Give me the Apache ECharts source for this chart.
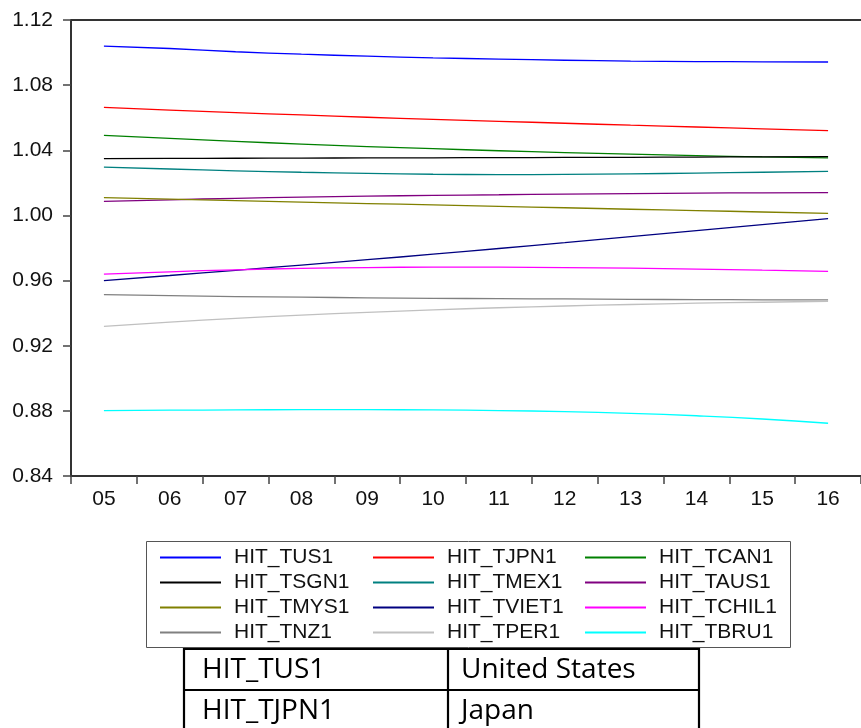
<!DOCTYPE html>
<html>
<head>
<meta charset="utf-8">
<script src="https://cdn.jsdelivr.net/npm/echarts@6/dist/echarts.min.js"></script>
<style>
html,body{margin:0;padding:0;background:#fff;overflow:hidden;}
#chart{width:861px;height:728px;}
</style>
</head>
<body>
<div id="chart"></div>
<script>
var categories = ['05','06','07','08','09','10','11','12','13','14','15','16'];
var yTicks = [0.84, 0.88, 0.92, 0.96, 1.00, 1.04, 1.08, 1.12];

var HIT_TUS1   = [1.1040,1.1025,1.1005,1.0990,1.0978,1.0968,1.0960,1.0953,1.0948,1.0945,1.0943,1.0942];
var HIT_TJPN1  = [1.0663,1.0647,1.0631,1.0617,1.0603,1.0590,1.0578,1.0566,1.0554,1.0543,1.0532,1.0521];
var HIT_TCAN1  = [1.0492,1.0473,1.0455,1.0438,1.0423,1.0410,1.0397,1.0386,1.0376,1.0367,1.0359,1.0353];
var HIT_TSGN1  = [1.0349,1.0350,1.0351,1.0352,1.0353,1.0354,1.0355,1.0356,1.0357,1.0358,1.0360,1.0361];
var HIT_TMEX1  = [1.0297,1.0285,1.0274,1.0265,1.0258,1.0253,1.0251,1.0252,1.0255,1.0260,1.0265,1.0271];
var HIT_TAUS1  = [1.0086,1.0096,1.0105,1.0112,1.0118,1.0123,1.0127,1.0131,1.0134,1.0137,1.0139,1.0140];
var HIT_TMYS1  = [1.0109,1.0100,1.0091,1.0082,1.0073,1.0065,1.0056,1.0047,1.0038,1.0030,1.0021,1.0012];
var HIT_TVIET1 = [0.9600,0.9631,0.9663,0.9695,0.9728,0.9762,0.9797,0.9833,0.9870,0.9907,0.9944,0.9980];
var HIT_TCHIL1 = [0.9639,0.9654,0.9666,0.9675,0.9680,0.9682,0.9682,0.9680,0.9676,0.9670,0.9664,0.9657];
var HIT_TNZ1   = [0.9514,0.9508,0.9502,0.9498,0.9494,0.9491,0.9489,0.9487,0.9485,0.9483,0.9482,0.9481];
var HIT_TPER1  = [0.9319,0.9345,0.9368,0.9388,0.9405,0.9420,0.9433,0.9444,0.9453,0.9461,0.9467,0.9473];
var HIT_TBRU1  = [0.8802,0.8804,0.8806,0.8807,0.8807,0.8806,0.8802,0.8795,0.8785,0.8770,0.8750,0.8724];

var seriesNames = ['HIT_TUS1','HIT_TJPN1','HIT_TCAN1','HIT_TSGN1','HIT_TMEX1','HIT_TAUS1',
                   'HIT_TMYS1','HIT_TVIET1','HIT_TCHIL1','HIT_TNZ1','HIT_TPER1','HIT_TBRU1'];
var seriesValues = [HIT_TUS1,HIT_TJPN1,HIT_TCAN1,HIT_TSGN1,HIT_TMEX1,HIT_TAUS1,
                    HIT_TMYS1,HIT_TVIET1,HIT_TCHIL1,HIT_TNZ1,HIT_TPER1,HIT_TBRU1];
var seriesColors = ['#0000FF','#FF0000','#008000','#000000','#008080','#800080',
                    '#808000','#000080','#FF00FF','#808080','#C0C0C0','#00FFFF'];

var tableCodes = ['HIT_TUS1','HIT_TJPN1'];
var tableNames = ['United States','Japan'];

var chart = echarts.init(document.getElementById('chart'), null, {renderer:'canvas'});

var series = seriesNames.map(function(n,i){
  return {
    name:n, type:'line', data:seriesValues[i], smooth:true,
    symbol:'none', showSymbol:false,
    lineStyle:{color:seriesColors[i], width:1.3},
    itemStyle:{color:seriesColors[i]},
    emphasis:{disabled:true}, animation:false
  };
});

var colLefts = [160, 373, 585];
var legends = [0,1,2].map(function(c){
  var names = [];
  for (var r=0;r<4;r++) names.push(seriesNames[r*3+c]);
  return {
    data:names, orient:'vertical', left:colLefts[c], top:547, padding:0,
    icon:'rect', itemWidth:61, itemHeight:2, itemGap:4,
    selectedMode:false,
    textStyle:{fontFamily:'Liberation Sans', fontSize:21, lineHeight:21, color:'#111', padding:[0,0,0,8]}
  };
});

var gL = 71, gT = 20, gW = 795, gH = 456;
var graphics = [
  {type:'rect', shape:{x:146.5, y:541.5, width:644, height:106}, style:{fill:'none', stroke:'#555', lineWidth:1}, z:-1},
  {type:'line', shape:{x1:gL, y1:gT, x2:861, y2:gT}, style:{stroke:'#333', lineWidth:2}}
];
// table
var tL=184, tR=699, tTop=649, rowH=41, colX=448;
graphics.push({type:'rect', shape:{x:tL, y:tTop, width:tR-tL, height:rowH*2+2}, style:{fill:'none', stroke:'#000', lineWidth:2.2}});
graphics.push({type:'line', shape:{x1:tL, y1:tTop+rowH, x2:tR, y2:tTop+rowH}, style:{stroke:'#000', lineWidth:2.2}});
graphics.push({type:'line', shape:{x1:colX, y1:tTop, x2:colX, y2:tTop+rowH*2+2}, style:{stroke:'#000', lineWidth:2.2}});
tableCodes.forEach(function(code,i){
  var cy = tTop + rowH*i + rowH/2 + 1;
  graphics.push({type:'text', x:202, y:cy, style:{text:code, font:'28px "Open Sans"', fill:'#000', textVerticalAlign:'middle'}});
  graphics.push({type:'text', x:461, y:cy, style:{text:tableNames[i], font:'28px "Open Sans"', fill:'#000', textVerticalAlign:'middle'}});
});

chart.setOption({
  animation:false,
  backgroundColor:'#fff',
  grid:{left:gL, top:gT, width:gW, height:gH, show:false},
  legend:legends,
  xAxis:{
    type:'category', data:categories, boundaryGap:true,
    axisLine:{show:true, lineStyle:{color:'#333', width:2}},
    axisTick:{show:true, inside:false, length:8, lineStyle:{color:'#444', width:1.5}},
    axisLabel:{fontFamily:'Liberation Sans', fontSize:21, color:'#111', margin:13},
    splitLine:{show:false}
  },
  yAxis:{
    type:'value', min:yTicks[0], max:yTicks[yTicks.length-1], interval:0.04,
    axisLine:{show:true, lineStyle:{color:'#333', width:2}},
    axisTick:{show:true, inside:false, length:8, lineStyle:{color:'#444', width:1.5}},
    axisLabel:{fontFamily:'Liberation Sans', fontSize:21, color:'#111', margin:18,
      formatter:function(v){return v.toFixed(2);}},
    splitLine:{show:false}
  },
  series:series,
  graphic:graphics
});
</script>
</body>
</html>
